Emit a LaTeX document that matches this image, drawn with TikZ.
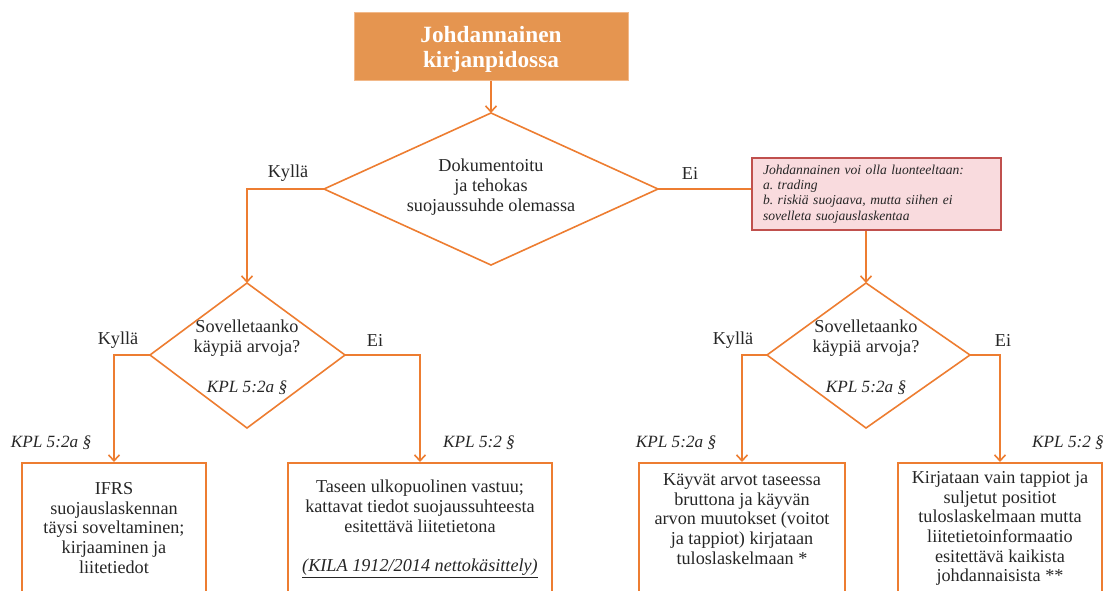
\documentclass[tikz,border=0pt]{standalone}
\usepackage{fontspec}
\setmainfont{Liberation Serif}
\usetikzlibrary{arrows.meta}
\definecolor{orn}{HTML}{ED7D31}
\definecolor{ornfill}{HTML}{E59550}
\definecolor{ornedge}{HTML}{F2B98A}
\definecolor{pinkfill}{HTML}{F9DBDE}
\definecolor{pinkline}{HTML}{C0504D}
\definecolor{txt}{HTML}{262626}
\frenchspacing
\begin{document}
\begin{tikzpicture}[x=1pt,y=-1pt,
  line/.style={draw=orn, line width=1.6pt},
  conn/.style={line, -{Straight Barb[length=6pt,width=11pt]}},
  lbl/.style={font=\fontsize{18.2}{19.7}\selectfont, text=txt, align=center, inner sep=0pt},
  kpl/.style={font=\fontsize{17.2}{19.7}\selectfont\itshape, text=txt, inner sep=0pt},
  topbox/.style={fill=ornfill, draw=ornedge, line width=1pt, minimum width=274pt, minimum height=68pt},
  toptext/.style={align=center, text=white, inner sep=0pt, font=\fontsize{23.3}{25}\selectfont\bfseries},
  pinkbox/.style={fill=pinkfill, draw=pinkline, line width=1.2pt, minimum width=249pt, minimum height=72pt,
    text width=227pt, inner xsep=11pt, align=left, text=txt, font=\fontsize{13.6}{15.4}\selectfont\itshape},
  resbox/.style={draw=orn, line width=1.6pt, minimum height=200pt, anchor=north, inner sep=0pt}
]
\clip (0,0) rectangle (1109,590);

% top box
\node[topbox] (top) at (491,46) {};
\node[toptext] (topx) at (491,49) {Johdannainen\\kirjanpidossa};

% diamond 1
\coordinate (d1t) at (491,113);
\coordinate (d1l) at (324,189);
\coordinate (d1r) at (658,189);
\coordinate (d1b) at (491,265);
\draw[line] (d1t) -- (d1r) -- (d1b) -- (d1l) -- cycle;
\node[lbl] (d1x) at (491,187) {Dokumentoitu\\ja tehokas\\suojaussuhde olemassa};
\node[lbl] (k1) at (288,173) {Kyllä};
\node[lbl] (e1) at (690,173) {Ei};

% pink note
\node[pinkbox] (pink) at (876.5,194) {\raisebox{0pt}[0pt][0pt]{}Johdannainen voi olla luonteeltaan:\\a. trading\\b. riskiä suojaava, mutta siihen ei\\sovelleta suojauslaskentaa};

% diamond 2
\coordinate (d2t) at (247,283);
\coordinate (d2l) at (150,355);
\coordinate (d2r) at (345,355);
\coordinate (d2b) at (247,428);
\draw[line] (d2t) -- (d2r) -- (d2b) -- (d2l) -- cycle;
\node[lbl] (d2x) at (247,338) {Sovelletaanko\\käypiä arvoja?};
\node[kpl] (d2k) at (247,388) {KPL 5:2a §};
\node[lbl] (k2) at (118,340) {Kyllä};
\node[lbl] (e2) at (375,340) {Ei};

% diamond 3
\coordinate (d3t) at (866,283);
\coordinate (d3l) at (767,355);
\coordinate (d3r) at (970,355);
\coordinate (d3b) at (866,428);
\draw[line] (d3t) -- (d3r) -- (d3b) -- (d3l) -- cycle;
\node[lbl] (d3x) at (866,338) {Sovelletaanko\\käypiä arvoja?};
\node[kpl] (d3k) at (866,388) {KPL 5:2a §};
\node[lbl] (k3) at (733,340) {Kyllä};
\node[lbl] (e3) at (1003,340) {Ei};

% result boxes
\node[resbox, minimum width=184pt] (b1) at (114,462) {};
\node[resbox, minimum width=264pt] (b2) at (420,462) {};
\node[resbox, minimum width=206pt] (b3) at (742,462) {};
\node[resbox, minimum width=204pt] (b4) at (1000,462) {};

\node[lbl] (t1) at (114,528) {IFRS\\suojauslaskennan\\täysi soveltaminen;\\kirjaaminen ja\\liitetiedot};
\node[lbl] (t2) at (420,529) {Taseen ulkopuolinen vastuu;\\kattavat tiedot suojaussuhteesta\\esitettävä liitetietona\\[19.7pt]\textit{\underline{(KILA 1912/2014 nettokäsittely)}}};
\node[lbl] (t3) at (742,519) {Käyvät arvot taseessa\\bruttona ja käyvän\\arvon muutokset (voitot\\ja tappiot) kirjataan\\tuloslaskelmaan *};
\node[lbl] (t4) at (1000,528.5) {Kirjataan vain tappiot ja\\suljetut positiot\\tuloslaskelmaan mutta\\liitetietoinformaatio\\esitettävä kaikista\\johdannaisista **};

% KPL labels
\node[kpl] (p1) at (51,443) {KPL 5:2a §};
\node[kpl] (p2) at (479,443) {KPL 5:2 §};
\node[kpl] (p3) at (676,443) {KPL 5:2a §};
\node[kpl] (p4) at (1068,443) {KPL 5:2 §};

% connectors
\draw[conn] (top.south) -- (d1t);
\draw[conn] (d1l) -| (d2t);
\draw[line] (d1r) -- (d1r -| pink.west);
\draw[conn] (pink.south -| d3t) -- (d3t);
\draw[conn] (d2l) -| (b1.north);
\draw[conn] (d2r) -| (b2.north);
\draw[conn] (d3l) -| (b3.north);
\draw[conn] (d3r) -| (b4.north);
\end{tikzpicture}
\end{document}
